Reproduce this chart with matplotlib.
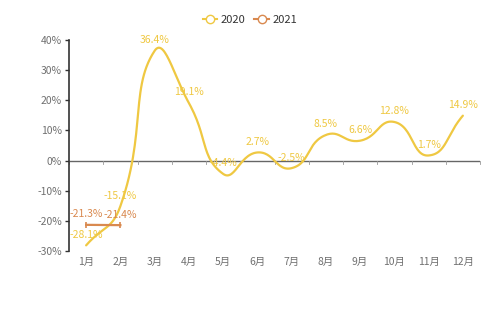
import numpy as np
import matplotlib
matplotlib.use("Agg")
import matplotlib.pyplot as plt
from matplotlib.lines import Line2D

plt.rcParams['font.family'] = ['Noto Sans CJK SC', 'DejaVu Sans']

months = ['1月', '2月', '3月', '4月', '5月', '6月', '7月', '8月', '9月', '10月', '11月', '12月']
vals_2020 = [-28.1, -15.1, 36.4, 19.1, -4.4, 2.7, -2.5, 8.5, 6.6, 12.8, 1.7, 14.9]
vals_2021 = [-21.3, -21.4]

c2020 = '#efc842'
c2021 = '#d9894f'

# echarts-like smooth line (bezier through points), done in pixel-ish units
def smooth_xy(xs, ys, sx=34.25, sy=3.02, smooth=0.5, n=30):
    px = np.array(xs, float) * sx
    py = np.array(ys, float) * sy
    pts = np.column_stack([px, py])
    k = len(pts)
    cin, cout = [], []
    for i in range(k):
        p = pts[i]
        prev = pts[i - 1] if i > 0 else p
        nxt = pts[i + 1] if i < k - 1 else p
        v = nxt - prev
        d0 = np.hypot(*(p - prev))
        d1 = np.hypot(*(p - nxt))
        r = d0 / (d0 + d1) if d0 + d1 > 0 else 0.5
        cin.append(p - v * smooth * r)
        cout.append(p + v * smooth * (1 - r))
    out = []
    t = np.linspace(0, 1, n)[:, None]
    for i in range(k - 1):
        p0, p1, p2, p3 = pts[i], cout[i], cin[i + 1], pts[i + 1]
        seg = (1 - t) ** 3 * p0 + 3 * (1 - t) ** 2 * t * p1 + 3 * (1 - t) * t ** 2 * p2 + t ** 3 * p3
        out.append(seg)
    out = np.vstack(out)
    return out[:, 0] / sx, out[:, 1] / sy

fig = plt.figure(figsize=(5, 3.33), dpi=100)
ax = fig.add_axes([0.138, 0.246, 0.822, 0.634])

x = np.arange(len(months))
sx, sy = smooth_xy(x, vals_2020)
ax.plot(sx, sy, color=c2020, lw=1.6, solid_capstyle='round', zorder=3)
x21 = np.arange(len(vals_2021))
ax.plot(x21, vals_2021, color=c2021, lw=1.6, zorder=4)
ax.plot(x21, vals_2021, '|', color=c2021, ms=4, mew=1.2, zorder=4)

for xi, v in zip(x, vals_2020):
    ax.annotate(f'{v}%', (xi, v), xytext=(0, 4), textcoords='offset points',
                ha='center', va='bottom', fontsize=7.5, color=c2020, zorder=5)
for xi, v in zip(x21, vals_2021):
    ax.annotate(f'{v}%', (xi, v), xytext=(0, 4), textcoords='offset points',
                ha='center', va='bottom', fontsize=7.5, color=c2021, zorder=5)

ax.set_xlim(-0.5, len(months) - 0.5)
ax.set_ylim(-30, 40)
ax.set_yticks(range(-30, 41, 10))
ax.set_yticklabels([f'{t}%' for t in range(-30, 41, 10)])
ax.set_xticks(x)
ax.set_xticklabels(months)
ax.tick_params(axis='x', length=0, pad=4, labelsize=7.5, labelcolor='#707070')
ax.tick_params(axis='y', length=3, width=1, color='#333333', pad=2, labelsize=7.5, labelcolor='#707070')

for s in ['top', 'right', 'bottom']:
    ax.spines[s].set_visible(False)
ax.spines['left'].set_color('#333333')
ax.spines['left'].set_linewidth(1.2)
ax.axhline(0, color='#666666', lw=1, zorder=2)
for b in np.arange(-0.5, len(months), 1):
    ax.plot([b, b], [0, -1.2], color='#999999', lw=0.6, zorder=2, clip_on=False)

handles = [Line2D([0], [0], color=c2020, lw=1.5, marker='o', ms=6, mfc='white', mec=c2020),
           Line2D([0], [0], color=c2021, lw=1.5, marker='o', ms=6, mfc='white', mec=c2021)]
fig.legend(handles, ['2020', '2021'], loc='center', bbox_to_anchor=(0.5, 0.94), ncol=2,
           frameon=False, fontsize=8, handlelength=1.3, columnspacing=0.8, handletextpad=0.3,
           labelcolor='#333333')

fig.savefig('out.png', dpi=100, facecolor='white')
